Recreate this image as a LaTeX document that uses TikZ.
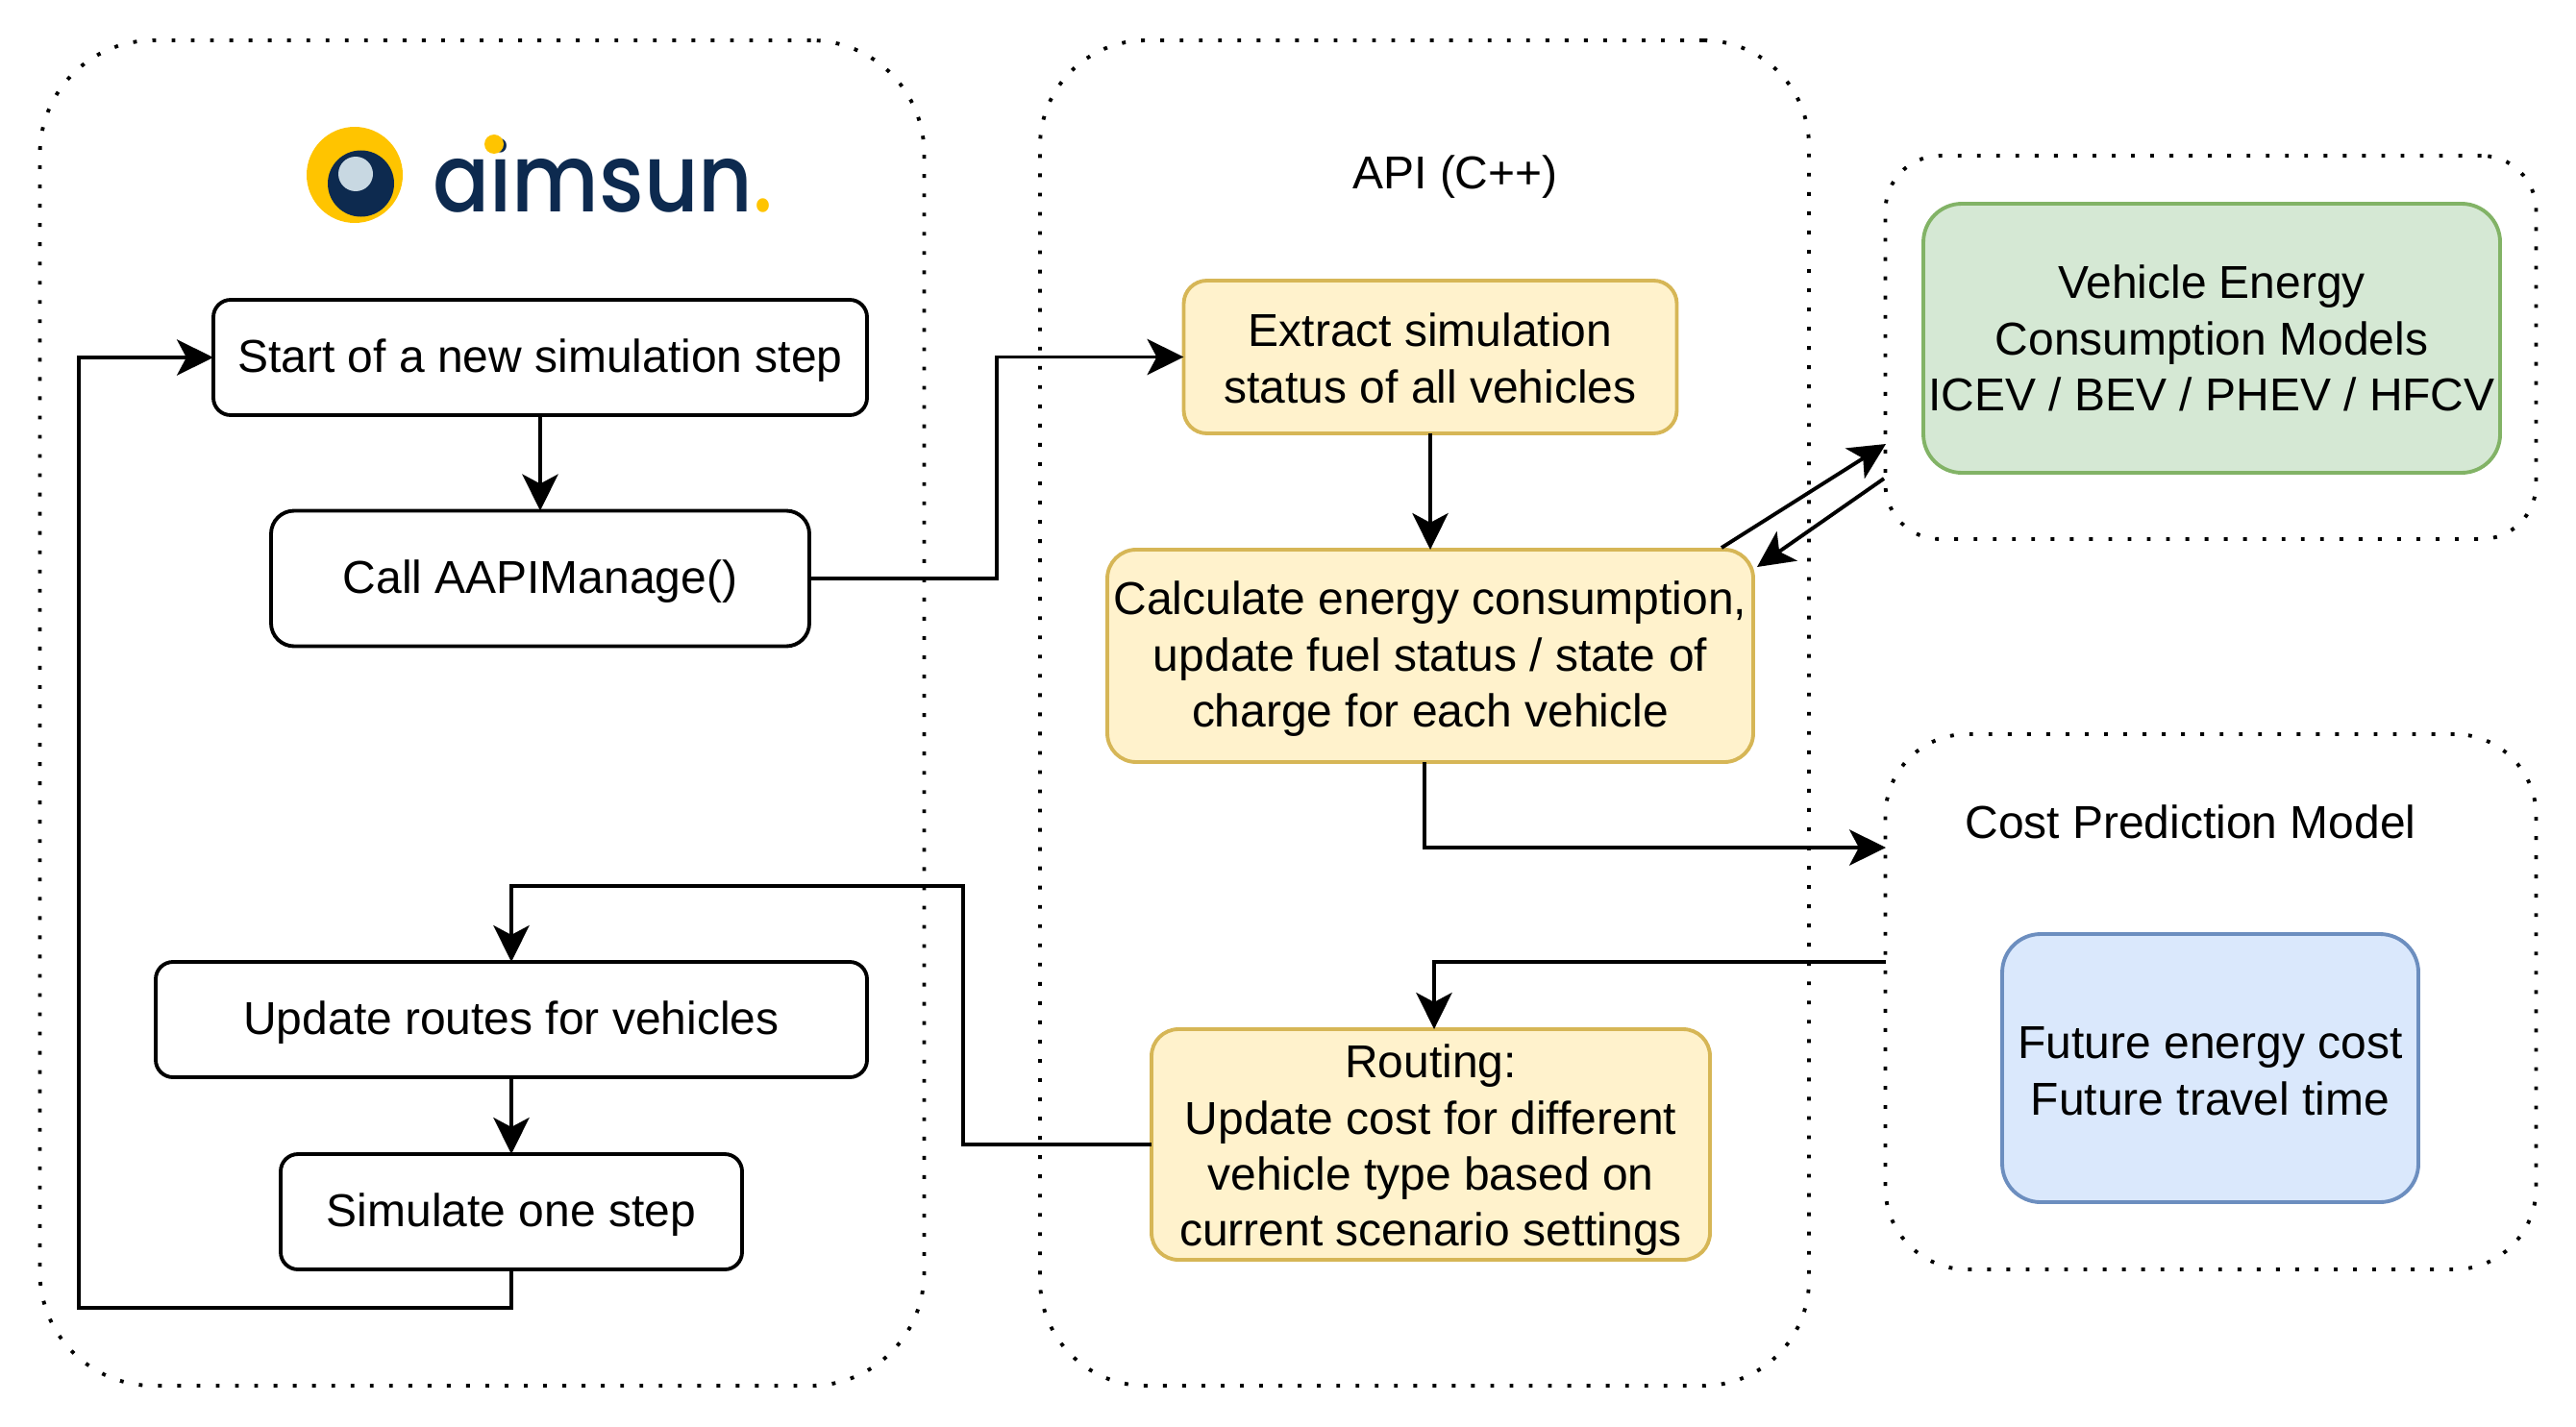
\documentclass[tikz,border=0pt]{standalone}
\usepackage{fontspec}
\setmainfont{Liberation Sans}
\newfontfamily\logofont{Poppins Medium}
\usetikzlibrary{arrows.meta}
\definecolor{apifill}{HTML}{FFF2CC}
\definecolor{apiline}{HTML}{D6B656}
\definecolor{energyfill}{HTML}{D5E8D4}
\definecolor{energyline}{HTML}{82B366}
\definecolor{costfill}{HTML}{DAE8FC}
\definecolor{costline}{HTML}{6C8EBF}
\definecolor{logoyellow}{HTML}{FFC400}
\definecolor{logonavy}{HTML}{0D2A4F}
\definecolor{logolight}{HTML}{C8D8E2}
\tikzset{
  txt/.style={font=\fontsize{13.65}{16.6}\selectfont, align=center, inner sep=0pt, outer sep=0pt},
  lift/.style={execute at begin node={\rule{0pt}{#1}}},
  groupbox/.style={draw=black, line width=1.1pt, dash pattern=on 1.1pt off 4.6pt, inner sep=0pt, outer sep=0pt},
  flowbox/.style={txt, draw=black, fill=white, line width=1.1pt, rounded corners=0.18cm},
  apibox/.style={txt, draw=apiline, fill=apifill, line width=1.1pt, rounded corners=0.28cm},
  link/.style={line width=1.1pt, -{Stealth[length=10.8pt, width=10.6pt, inset=2.8pt]}},
}
\begin{document}
\begin{tikzpicture}
  \useasboundingbox (0,0) rectangle (26.8,-14.84);
  % dotted groups
  \node[groupbox, rounded corners=1.18cm, minimum width=9.2cm, minimum height=14cm] (aimsungroup) at (5.015,-7.42) {};
  \node[groupbox, rounded corners=1.1cm, minimum width=8cm, minimum height=14cm] (apigroup) at (14.82,-7.42) {};
  \node[groupbox, rounded corners=0.57cm, minimum width=6.77cm, minimum height=3.99cm] (energygroup) at (23,-3.615) {};
  \node[groupbox, rounded corners=0.85cm, minimum width=6.77cm, minimum height=5.57cm] (costgroup) at (23,-10.425) {};
  % logo
  \fill[logoyellow] (3.69,-1.82) circle (0.5);
  \fill[logonavy] (3.755,-1.91) circle (0.345);
  \fill[logolight] (3.70,-1.81) circle (0.18);
  \node[anchor=base west, inner sep=0pt, xscale=0.887, transform shape, text=logonavy, font=\logofont\fontsize{28}{30}\selectfont] (logotext) at (4.50,-2.20) {aimsun\textcolor{logoyellow}{.}};
  \fill[logoyellow] (5.14,-1.50) circle (0.1);
  % simulator side
  \node[flowbox, lift=11.8pt, minimum width=6.8cm, minimum height=1.2cm] (start) at (5.62,-3.72) {Start of a new simulation step};
  \node[flowbox, lift=11.4pt, rounded corners=0.24cm, minimum width=5.6cm, minimum height=1.41cm] (call) at (5.62,-6.02) {Call AAPIManage()};
  \node[flowbox, lift=11.4pt, minimum width=7.4cm, minimum height=1.2cm] (update) at (5.32,-10.61) {Update routes for vehicles};
  \node[flowbox, lift=11.4pt, minimum width=4.8cm, minimum height=1.2cm] (simulate) at (5.32,-12.61) {Simulate one step};
  % api side
  \node[txt] (apilabel) at (15.14,-1.84) {API (C++)};
  \node[apibox, lift=27.2pt, rounded corners=0.24cm, minimum width=5.13cm, minimum height=1.59cm] (extract) at (14.88,-3.715) {Extract simulation\\status of all vehicles};
  \node[apibox, lift=45pt, rounded corners=0.3cm, minimum width=6.72cm, minimum height=2.21cm] (energycalc) at (14.88,-6.825) {Calculate energy consumption,\\update fuel status / state of\\charge for each vehicle};
  \node[apibox, lift=63pt, minimum width=5.81cm, minimum height=2.4cm] (routing) at (14.885,-11.91) {Routing:\\Update cost for different\\vehicle type based on\\current scenario settings};
  % models
  \node[txt, draw=energyline, fill=energyfill, line width=1.1pt, rounded corners=0.4cm, minimum width=6cm, minimum height=2.8cm] (energymodel) at (23.01,-3.52) {Vehicle Energy\\Consumption Models\\ICEV / BEV / PHEV / HFCV};
  \node[txt] (costlabel) at (22.79,-8.55) {Cost Prediction Model};
  \node[txt, lift=27.9pt, draw=costline, fill=costfill, line width=1.1pt, rounded corners=0.4cm, minimum width=4.33cm, minimum height=2.79cm] (costmodel) at (22.995,-11.115) {Future energy cost\\Future travel time};
  % free ends and bends
  \coordinate (loopbend) at (0.82,-13.61);
  \coordinate (apibend) at (10.37,-6.02);
  \coordinate (routebend) at (10.02,-9.22);
  \coordinate (energyout) at (17.91,-5.70);
  \coordinate (energyin) at (19.62,-4.62);
  \coordinate (energyback) at (19.6,-4.98);
  \coordinate (energyret) at (18.28,-5.90);
  \coordinate (calcout) at (14.82,-7.93);
  \coordinate (costin) at (19.62,-8.82);
  \coordinate (costout) at (19.62,-10.01);
  \coordinate (routingin) at (14.92,-10.71);
  % connectors
  \draw[link] (start) -- (call);
  \draw[link] (update) -- (simulate);
  \draw[link] (extract) -- (energycalc);
  \draw[link] (simulate.south) |- (loopbend) |- (start.west);
  \draw[link] (call.east) -| (apibend) |- (extract.west);
  \draw[link] (routing.west) -| (routebend) -| (update.north);
  \draw[link] (energyout) -- (energyin);
  \draw[link] (energyback) -- (energyret);
  \draw[link] (calcout) |- (costin);
  \draw[link] (costout) -| (routingin);
\end{tikzpicture}
\end{document}
